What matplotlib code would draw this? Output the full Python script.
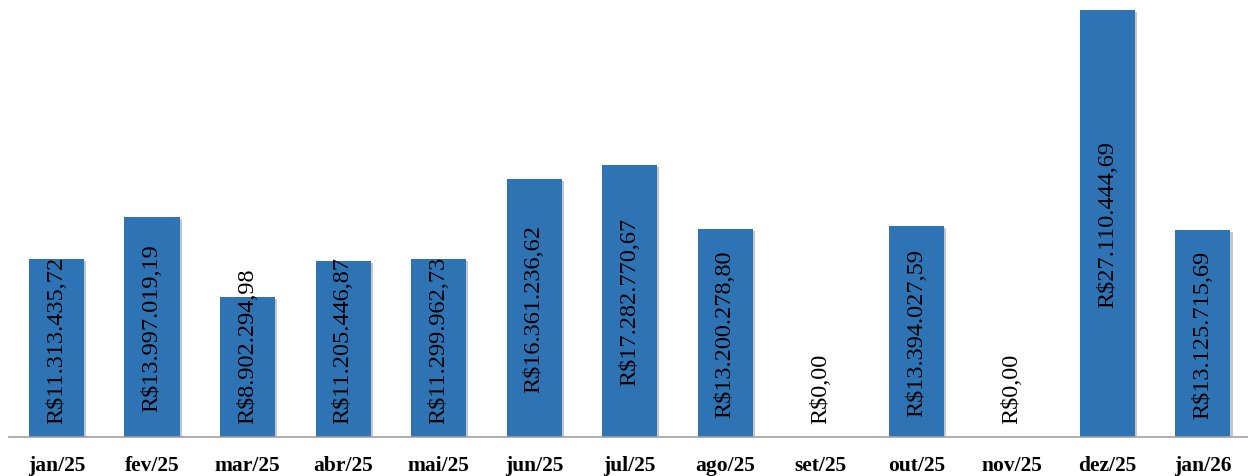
import matplotlib
matplotlib.use("Agg")
import matplotlib.pyplot as plt
import matplotlib.patheffects as pe

categories = ["jan/25", "fev/25", "mar/25", "abr/25", "mai/25", "jun/25", "jul/25",
              "ago/25", "set/25", "out/25", "nov/25", "dez/25", "jan/26"]
values = [11313435.72, 13997019.19, 8902294.98, 11205446.87, 11299962.73, 16361236.62,
          17282770.67, 13200278.80, 0.00, 13394027.59, 0.00, 27110444.69, 13125715.69]


def fmt_brl(v):
    s = f"{v:,.2f}"
    s = s.replace(",", "X").replace(".", ",").replace("X", ".")
    return "R$" + s


plt.rcParams['font.family'] = ['Liberation Serif', 'DejaVu Serif']

W, H, DPI = 1248, 477, 100
fig = plt.figure(figsize=(W / DPI, H / DPI), dpi=DPI)
ax = fig.add_axes([8.7 / W, 39 / H, 1242 / W, 438 / H])

x = list(range(len(categories)))
bars = ax.bar(x, values, width=0.576, color="#2E74B5", zorder=2)
for b in bars:
    b.set_path_effects([pe.SimplePatchShadow(offset=(1.5, -1.5), shadow_rgbFace="#000000", alpha=0.22),
                        pe.Normal()])

ymax = max(values) * 438 / 427
ax.set_ylim(0, ymax)
ax.set_xlim(-0.5, len(categories) - 0.5)

for s in ["top", "right", "left"]:
    ax.spines[s].set_visible(False)
ax.spines["bottom"].set_color("#A0A0A0")
ax.spines["bottom"].set_linewidth(1.2)
ax.set_yticks([])
ax.set_xticks(x)
ax.set_xticklabels(categories, fontsize=15.5, fontweight="bold")
ax.tick_params(axis="x", length=0, pad=13)

# data labels: centred in bar, but kept at least a small gap above the baseline
texts = []
for xi, v in zip(x, values):
    t = ax.text(xi, v / 2, fmt_brl(v), rotation=90, ha="center", va="center",
                fontsize=17.5, color="black", zorder=3)
    texts.append(t)

fig.canvas.draw()
renderer = fig.canvas.get_renderer()
px_per_unit = ax.bbox.height / ymax
min_gap = 14 / px_per_unit
for t, v in zip(texts, values):
    bb = t.get_window_extent(renderer)
    half = bb.height / 2 / px_per_unit
    cy = max(v / 2, min_gap + half)
    t.set_y(cy)

fig.savefig("out.png", dpi=DPI)
